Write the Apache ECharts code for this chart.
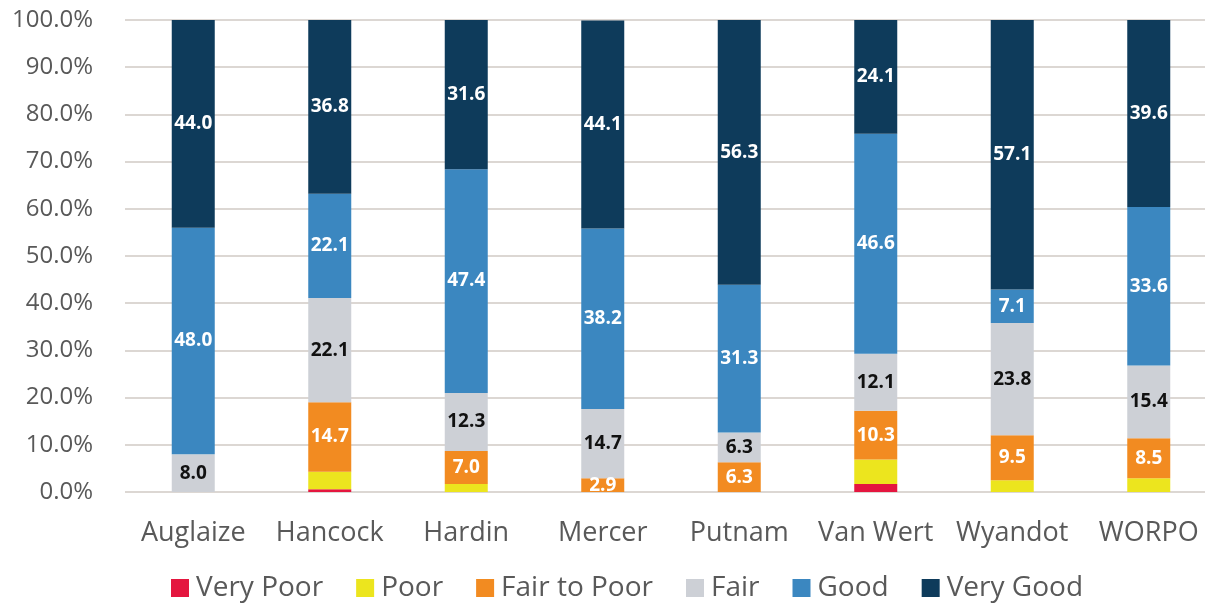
<!DOCTYPE html>
<html>
<head>
<meta charset="utf-8">
<script src="https://cdn.jsdelivr.net/npm/echarts@6/dist/echarts.min.js"></script>
<style>
html,body{margin:0;padding:0;background:#fff;overflow:hidden;width:1205px;height:603px;}
#chart{width:1217px;height:603px;}
</style>
</head>
<body>
<div id="chart"></div>
<script>
const categories = ['Auglaize', 'Hancock', 'Hardin', 'Mercer', 'Putnam', 'Van Wert', 'Wyandot', 'WORPO'];
const seriesNames = ['Very Poor', 'Poor', 'Fair to Poor', 'Fair', 'Good', 'Very Good'];
const veryPoor   = [0,    0.6,  0,    0,    0,    1.7,  0,    0];
const poor       = [0,    3.7,  1.7,  0,    0,    5.2,  2.5,  2.9];
const fairToPoor = [0,    14.7, 7.0,  2.9,  6.3,  10.3, 9.5,  8.5];
const fair       = [8.0,  22.1, 12.3, 14.7, 6.3,  12.1, 23.8, 15.4];
const good       = [48.0, 22.1, 47.4, 38.2, 31.3, 46.6, 7.1,  33.6];
const veryGood   = [44.0, 36.8, 31.6, 44.1, 56.3, 24.1, 57.1, 39.6];
const yTicks = [0, 10, 20, 30, 40, 50, 60, 70, 80, 90, 100];

const colors = ['#e4163f', '#ece51e', '#f28b21', '#cdd0d6', '#3b87c0', '#0e3b5b'];
const allData = [veryPoor, poor, fairToPoor, fair, good, veryGood];
const showLabel = [false, false, true, true, true, true];
const labelColor = ['#fff', '#fff', '#fff', '#111', '#fff', '#fff'];
const FONT = 'Open Sans';

const chart = echarts.init(document.getElementById('chart'), null, {renderer: 'canvas'});
chart.setOption({
  animation: false,
  textStyle: {fontFamily: FONT},
  color: colors,
  grid: {left: 125, top: 20, right: 0, bottom: 111, containLabel: false},
  legend: {
    left: 166, top: 569,
    itemWidth: 18, itemHeight: 18, itemGap: 33,
    icon: 'rect',
    textStyle: {fontFamily: FONT, fontSize: 28, color: '#595959', padding: [0, 0, 0, 2]},
    data: seriesNames
  },
  xAxis: {
    type: 'category',
    data: categories,
    axisLine: {show: false},
    axisTick: {show: false},
    axisLabel: {fontFamily: FONT, fontSize: 27, color: '#595959', margin: 28, interval: 0}
  },
  yAxis: {
    type: 'value',
    min: yTicks[0], max: yTicks[yTicks.length - 1], interval: yTicks[1] - yTicks[0],
    axisLine: {show: false},
    axisTick: {show: false},
    axisLabel: {
      fontFamily: FONT, fontSize: 24, color: '#595959', margin: 32,
      formatter: v => v.toFixed(1) + '%'
    },
    splitLine: {lineStyle: {color: '#dcd7d3', width: 2}}
  },
  series: seriesNames.map((name, i) => ({
    name: name,
    type: 'bar',
    stack: 'total',
    barWidth: 43,
    data: allData[i],
    itemStyle: {color: colors[i]},
    label: {
      show: showLabel[i],
      position: 'inside',
      color: labelColor[i],
      fontFamily: FONT,
      fontWeight: 'bold',
      fontSize: 19,
      formatter: p => (p.value ? p.value.toFixed(1) : '')
    }
  }))
});
</script>
</body>
</html>
